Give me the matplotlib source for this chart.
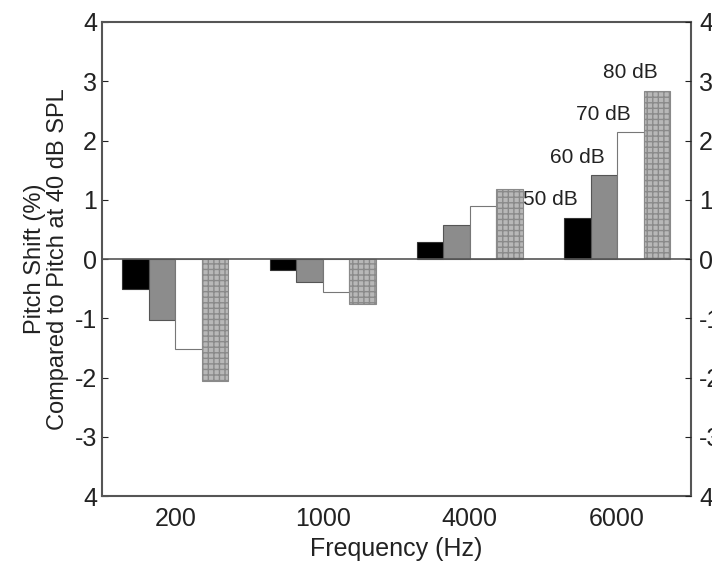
import numpy as np
import matplotlib.pyplot as plt

plt.rcParams['font.family'] = ['Liberation Sans', 'DejaVu Sans']

freqs = ['200', '1000', '4000', '6000']
levels = ['50 dB', '60 dB', '70 dB', '80 dB']
shift_50 = [-0.50, -0.19, 0.28, 0.70]
shift_60 = [-1.02, -0.38, 0.57, 1.42]
shift_70 = [-1.52, -0.56, 0.89, 2.14]
shift_80 = [-2.05, -0.76, 1.18, 2.84]
ytick_labels = ['4', '-3', '-2', '-1', '0', '1', '2', '3', '4']

series = [shift_50, shift_60, shift_70, shift_80]
faces = ['black', '#8c8c8c', 'white', '#b8b8b8']
edges = ['#333333', '#555555', '#777777', '#8a8a8a']
hatches = [None, None, None, '+++']

fig = plt.figure(figsize=(7.12, 5.62), dpi=100)
ax = fig.add_axes([0.143, 0.117, 0.827, 0.844])

x = np.arange(1, len(freqs) + 1)
width = 0.18
for i, vals in enumerate(series):
    pos = x + (i - 1.5) * width
    ax.bar(pos, vals, width, color=faces[i], edgecolor=edges[i],
           linewidth=0.8, hatch=hatches[i], zorder=2)

# level labels over the 6000 Hz group
for i, vals in enumerate(series):
    bx = x[-1] + (i - 1.5) * width
    ax.text(bx - 0.18, vals[-1] + 0.3, levels[i], fontsize=15,
            ha='center', va='center', color='#222222')

ax.axhline(0, color='#555555', linewidth=1.2, zorder=3)

ax.set_xlim(0.5, 4.5)
ax.set_ylim(-4, 4)
ax.set_xticks(x)
ax.set_xticklabels(freqs)
ax.set_yticks(np.arange(-4, 5))
ax.set_yticklabels(ytick_labels)
ax.tick_params(axis='x', length=0, labelsize=18, pad=8, colors='#222222')
ax.tick_params(axis='y', direction='in', length=4, labelsize=18,
               colors='#222222')

for s in ax.spines.values():
    s.set_color('#555555')
    s.set_linewidth(1.5)

ax2 = ax.twinx()
ax2.set_ylim(-4, 4)
ax2.set_yticks(np.arange(-4, 5))
ax2.set_yticklabels(ytick_labels)
ax2.tick_params(axis='y', direction='in', length=4, labelsize=18,
                colors='#222222', pad=6)
for s in ax2.spines.values():
    s.set_visible(False)

ax.set_xlabel('Frequency (Hz)', fontsize=18, color='#222222', labelpad=4)
ax.set_ylabel('Pitch Shift (%)\nCompared to Pitch at 40 dB SPL',
              fontsize=17, color='#222222', labelpad=4, linespacing=1.05)

fig.savefig('out.png', dpi=100)
